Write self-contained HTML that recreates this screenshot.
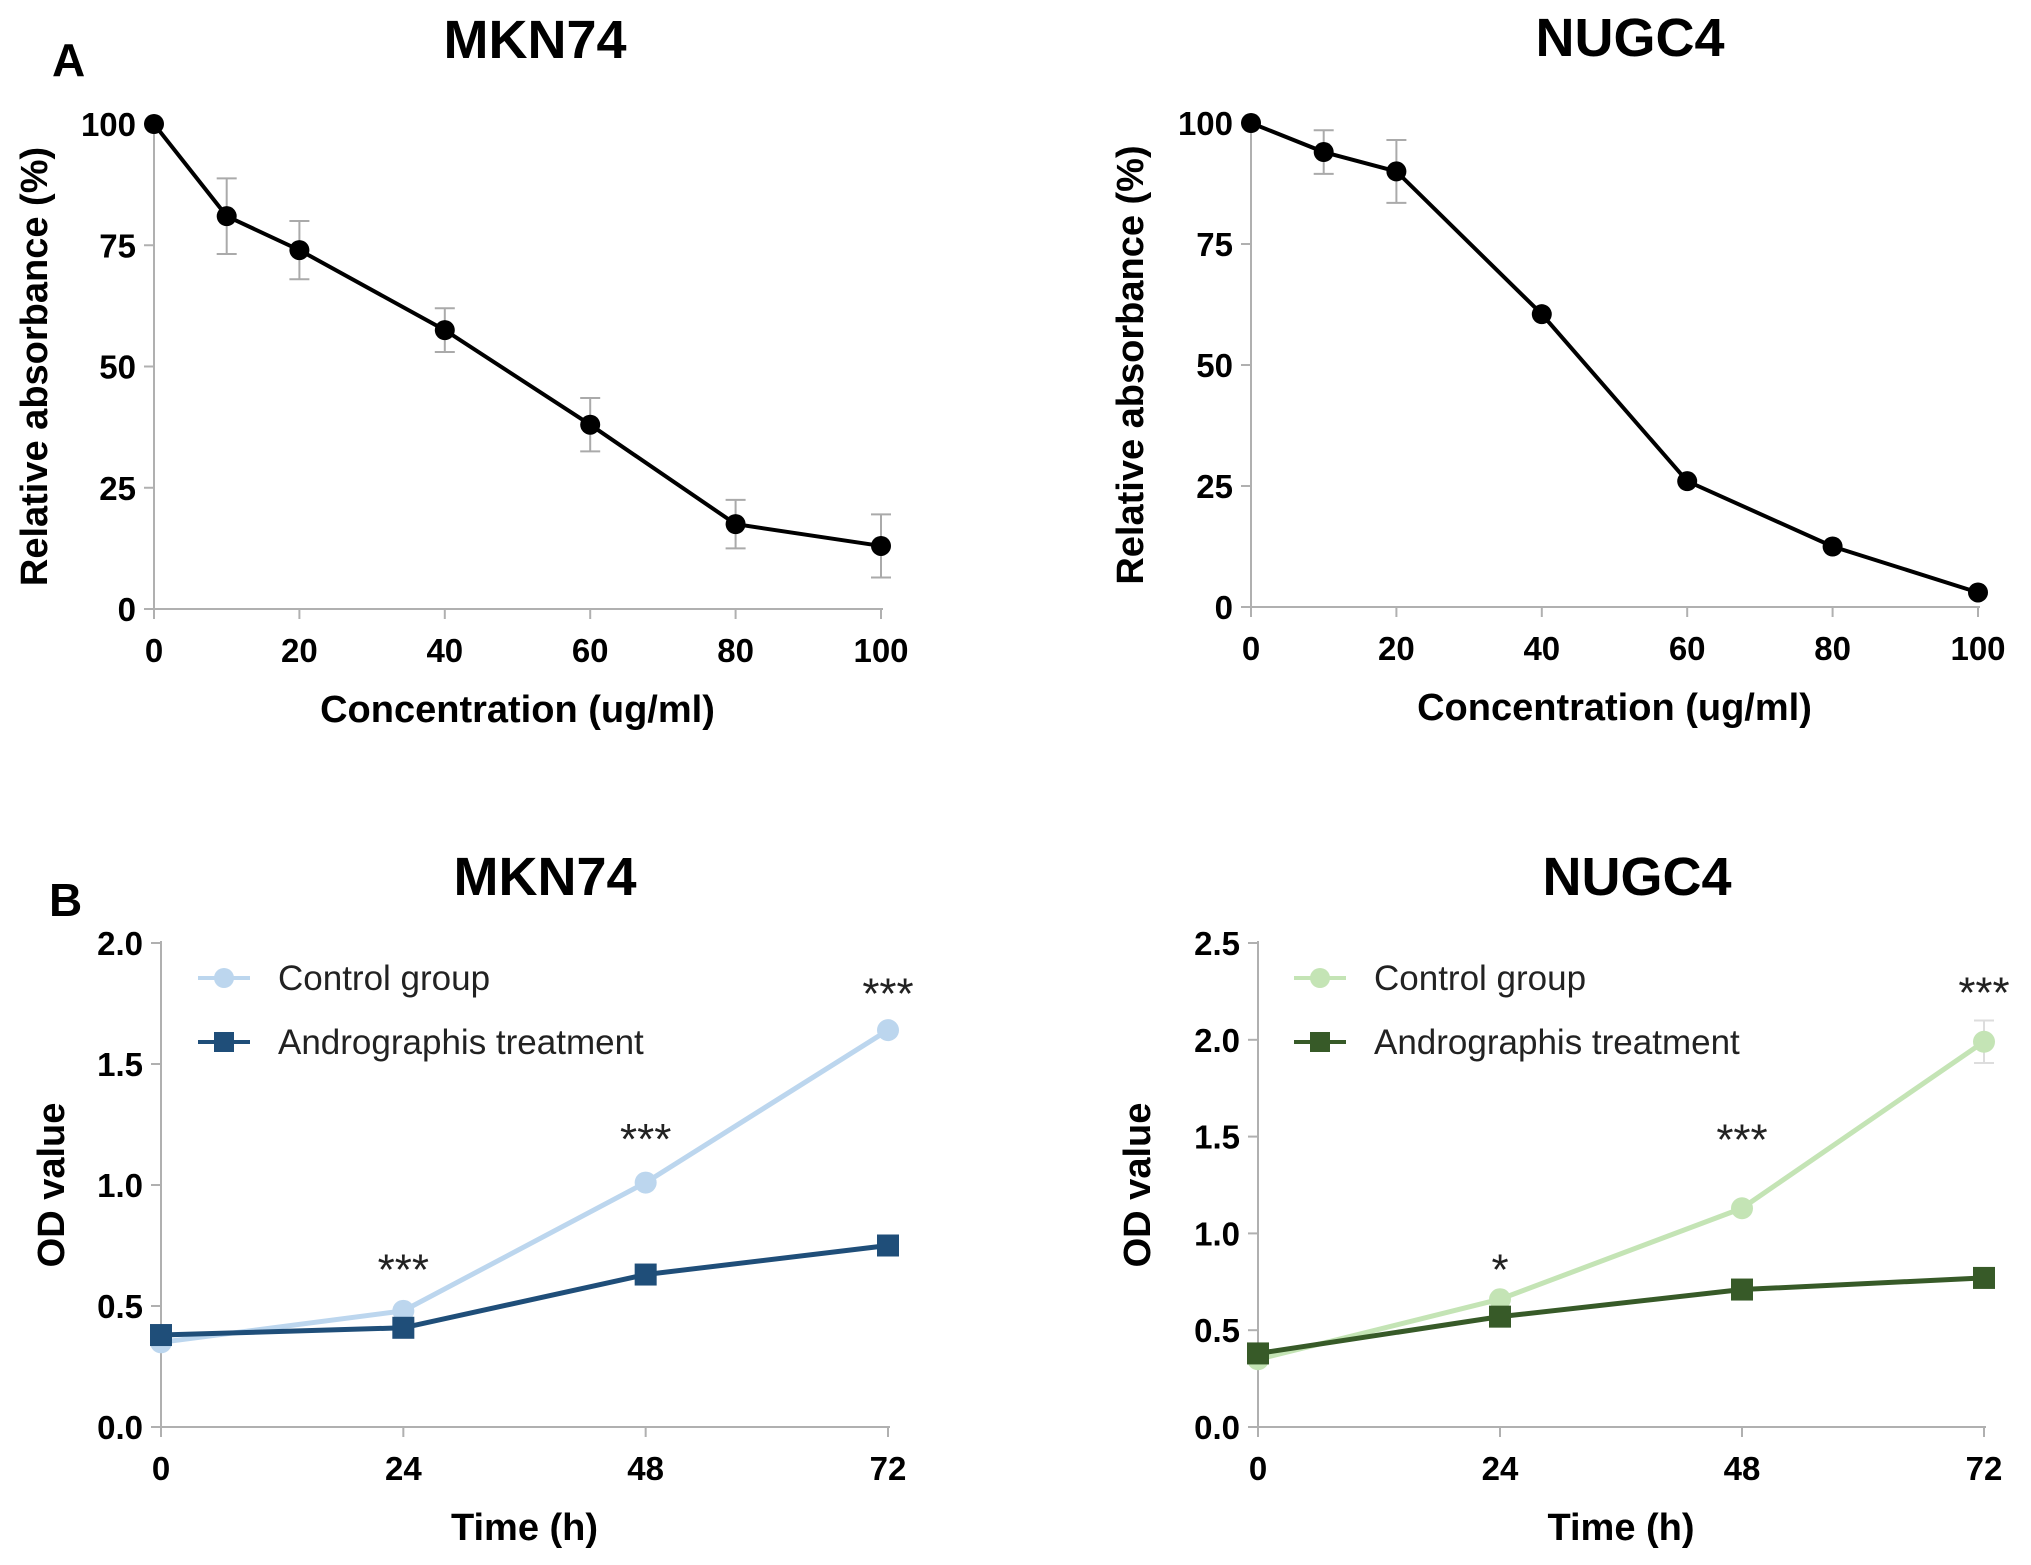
<!DOCTYPE html>
<html><head><meta charset="utf-8">
<style>
html,body{margin:0;padding:0;background:#fff;}
svg{display:block;}
text{font-family:"Liberation Sans Narrow","Liberation Sans",sans-serif;}
</style></head>
<body>
<svg id="fig" width="2031" height="1565" viewBox="0 0 2031 1565" xmlns="http://www.w3.org/2000/svg">
<text x="52" y="76" font-size="46" font-weight="bold" font-family="Liberation Sans, sans-serif">A</text>
<text x="49" y="916" font-size="46" font-weight="bold" font-family="Liberation Sans, sans-serif">B</text>
</svg>
<script>
// Panel A data
const concCategories = [0, 10, 20, 40, 60, 80, 100];
const concTicks = [0, 20, 40, 60, 80, 100];
const absTicks = [0, 25, 50, 75, 100];
const mknAbs = [100, 81, 74, 57.5, 38, 17.5, 13];
const mknAbsErr = [0, 7.8, 6, 4.5, 5.5, 5, 6.5];
const nugAbs = [100, 94, 90, 60.5, 26, 12.5, 3];
const nugAbsErr = [0, 4.5, 6.5, 0, 0, 0, 0];
// Panel B data
const timeCategories = [0, 24, 48, 72];
const mknODTicks = ['0.0', '0.5', '1.0', '1.5', '2.0'];
const nugODTicks = ['0.0', '0.5', '1.0', '1.5', '2.0', '2.5'];
const mknControl = [0.35, 0.48, 1.01, 1.64];
const mknTreat = [0.38, 0.41, 0.63, 0.75];
const nugControl = [0.35, 0.66, 1.13, 1.99];
const nugControlErr = [0, 0, 0, 0.11];
const nugTreat = [0.38, 0.57, 0.71, 0.77];
const mknStars = ['', '***', '***', '***'];
const mknStarY = [0, 0.68, 1.22, 1.82];
const nugStars = ['', '*', '***', '***'];
const nugStarY = [0, 0.85, 1.52, 2.28];

const NS = 'http://www.w3.org/2000/svg';
const svg = document.getElementById('fig');
function mk(tag, attrs, parent, txt) {
  const e = document.createElementNS(NS, tag);
  for (const k in attrs) e.setAttribute(k, attrs[k]);
  if (txt !== undefined) e.textContent = txt;
  (parent || svg).appendChild(e);
  return e;
}

function drawPanel(cfg) {
  const g = mk('g', {});
  
  
  const sx = v => cfg.x0 + (v - cfg.xmin) / (cfg.xmax - cfg.xmin) * (cfg.x1 - cfg.x0);
  const sy = v => cfg.y0 - (v - cfg.ymin) / (cfg.ymax - cfg.ymin) * (cfg.y0 - cfg.y1);
  const t = mk('text', {x: cfg.titleX, y: cfg.titleY, 'font-size': 54, 'font-weight': 'bold', 'text-anchor': 'middle', 'font-family': 'Liberation Sans, sans-serif'}, g, cfg.title);
  
  
  const ax = mk('line', {x1: cfg.x0, y1: cfg.y0, x2: cfg.x1 + 2, y2: cfg.y0, stroke: '#b0b0b0', 'stroke-width': 2}, g);
  
  
  const ay = mk('line', {x1: cfg.x0, y1: cfg.y0, x2: cfg.x0, y2: cfg.y1 - 2, stroke: '#b0b0b0', 'stroke-width': 2}, g);
  
  
  cfg.xticks.forEach(v => {
    mk('line', {x1: sx(v), y1: cfg.y0, x2: sx(v), y2: cfg.y0 + 10, stroke: '#b0b0b0', 'stroke-width': 2}, g);
    const l = mk('text', {x: sx(v), y: cfg.y0 + 53, 'font-size': 33, 'font-weight': 'bold', 'text-anchor': 'middle'}, g, String(v));
    
    
  });
  cfg.yticks.forEach(s => {
    const v = parseFloat(s);
    mk('line', {x1: cfg.x0 - 10, y1: sy(v), x2: cfg.x0, y2: sy(v), stroke: '#b0b0b0', 'stroke-width': 2}, g);
    const l = mk('text', {x: cfg.x0 - 18, y: sy(v) + 12, 'font-size': 33, 'font-weight': 'bold', 'text-anchor': 'end'}, g, s);
    
    
  });
  const xt = mk('text', {x: (cfg.x0 + cfg.x1) / 2, y: cfg.y0 + 113, 'font-size': 38, 'font-weight': 'bold', 'text-anchor': 'middle', 'font-family': 'Liberation Sans, sans-serif'}, g, cfg.xtitle);
  
  
  const yc = (cfg.y0 + cfg.y1) / 2;
  const yt = mk('text', {x: cfg.ytx, y: yc, 'font-size': 38, 'font-weight': 'bold', 'text-anchor': 'middle', transform: `rotate(-90 ${cfg.ytx} ${yc})`, 'font-family': 'Liberation Sans, sans-serif'}, g, cfg.ytitle);
  
  

  cfg.series.forEach(s => {
    const sg = mk('g', {}, g);
    
    
    if (s.err) s.vals.forEach((v, i) => {
      const e = s.err[i]; if (!e) return;
      const x = sx(cfg.xs[i]);
      mk('path', {d: `M${x},${sy(v - e)}V${sy(v + e)}M${x - 10},${sy(v - e)}h20M${x - 10},${sy(v + e)}h20`, stroke: s.errColor, 'stroke-width': 2, fill: 'none'}, sg);
    });
    const pts = s.vals.map((v, i) => sx(cfg.xs[i]) + ',' + sy(v)).join(' ');
    const pl = mk('polyline', {points: pts, fill: 'none', stroke: s.color, 'stroke-width': s.lw}, sg);
    
    
    s.vals.forEach((v, i) => {
      const x = sx(cfg.xs[i]), y = sy(v);
      let m;
      if (s.marker === 'square') m = mk('rect', {x: x - 11, y: y - 11, width: 22, height: 22, fill: s.color}, sg);
      else m = mk('circle', {cx: x, cy: y, r: s.r || 11, fill: s.color}, sg);
      
      
    });
  });
  if (cfg.stars) cfg.stars.forEach((st, i) => {
    if (!st) return;
    const s = mk('text', {x: sx(cfg.xs[i]), y: sy(cfg.starY[i]) + 22, 'font-size': 44, 'text-anchor': 'middle', 'font-family': 'DejaVu Sans, sans-serif', fill: '#222'}, g, st);
    
    
  });
  if (cfg.legend) cfg.legend.forEach((lg, i) => {
    const ly = cfg.legY + i * 64;
    const lgG = mk('g', {}, g);
    
    
    mk('line', {x1: cfg.legX, y1: ly, x2: cfg.legX + 52, y2: ly, stroke: lg.color, 'stroke-width': 4}, lgG);
    if (lg.marker === 'square') mk('rect', {x: cfg.legX + 16, y: ly - 10, width: 20, height: 20, fill: lg.color}, lgG);
    else mk('circle', {cx: cfg.legX + 26, cy: ly, r: 10, fill: lg.color}, lgG);
    mk('text', {x: cfg.legX + 80, y: ly + 12, 'font-size': 35, fill: '#222', 'font-family': 'Liberation Sans, sans-serif'}, lgG, lg.label);
  });
}

drawPanel({name: 'chart-a-mkn74', title: 'MKN74', titleX: 535, titleY: 58,
  x0: 154, x1: 881, y0: 609, y1: 124, xmin: 0, xmax: 100, ymin: 0, ymax: 100,
  xs: concCategories, xticks: concTicks, yticks: absTicks.map(String),
  xtitle: 'Concentration (ug/ml)', ytitle: 'Relative absorbance (%)', ytx: 47,
  series: [{name: 'series-mkn74-absorbance', vals: mknAbs, err: mknAbsErr, errColor: '#aaa', color: '#000', lw: 4, r: 10}]});
drawPanel({name: 'chart-a-nugc4', title: 'NUGC4', titleX: 1630, titleY: 56,
  x0: 1251, x1: 1978, y0: 607, y1: 123, xmin: 0, xmax: 100, ymin: 0, ymax: 100,
  xs: concCategories, xticks: concTicks, yticks: absTicks.map(String),
  xtitle: 'Concentration (ug/ml)', ytitle: 'Relative absorbance (%)', ytx: 1143,
  series: [{name: 'series-nugc4-absorbance', vals: nugAbs, err: nugAbsErr, errColor: '#aaa', color: '#000', lw: 4, r: 10}]});
drawPanel({name: 'chart-b-mkn74', title: 'MKN74', titleX: 545, titleY: 895,
  x0: 161, x1: 888, y0: 1427, y1: 943, xmin: 0, xmax: 72, ymin: 0, ymax: 2.0,
  xs: timeCategories, xticks: timeCategories, yticks: mknODTicks,
  xtitle: 'Time (h)', ytitle: 'OD value', ytx: 64,
  stars: mknStars, starY: mknStarY, legX: 198, legY: 978,
  legend: [{label: 'Control group', color: '#bcd6ee', marker: 'circle'}, {label: 'Andrographis treatment', color: '#1f4e79', marker: 'square'}],
  series: [{name: 'series-mkn74-control', vals: mknControl, color: '#bcd6ee', lw: 5},
           {name: 'series-mkn74-treatment', vals: mknTreat, color: '#1f4e79', lw: 5, marker: 'square'}]});
drawPanel({name: 'chart-b-nugc4', title: 'NUGC4', titleX: 1637, titleY: 895,
  x0: 1258, x1: 1984, y0: 1427, y1: 943, xmin: 0, xmax: 72, ymin: 0, ymax: 2.5,
  xs: timeCategories, xticks: timeCategories, yticks: nugODTicks,
  xtitle: 'Time (h)', ytitle: 'OD value', ytx: 1150,
  stars: nugStars, starY: nugStarY, legX: 1294, legY: 978,
  legend: [{label: 'Control group', color: '#c4e4b5', marker: 'circle'}, {label: 'Andrographis treatment', color: '#375a28', marker: 'square'}],
  series: [{name: 'series-nugc4-control', vals: nugControl, err: nugControlErr, errColor: '#ddd', color: '#c4e4b5', lw: 5},
           {name: 'series-nugc4-treatment', vals: nugTreat, color: '#375a28', lw: 5, marker: 'square'}]});
</script>
</body></html>
